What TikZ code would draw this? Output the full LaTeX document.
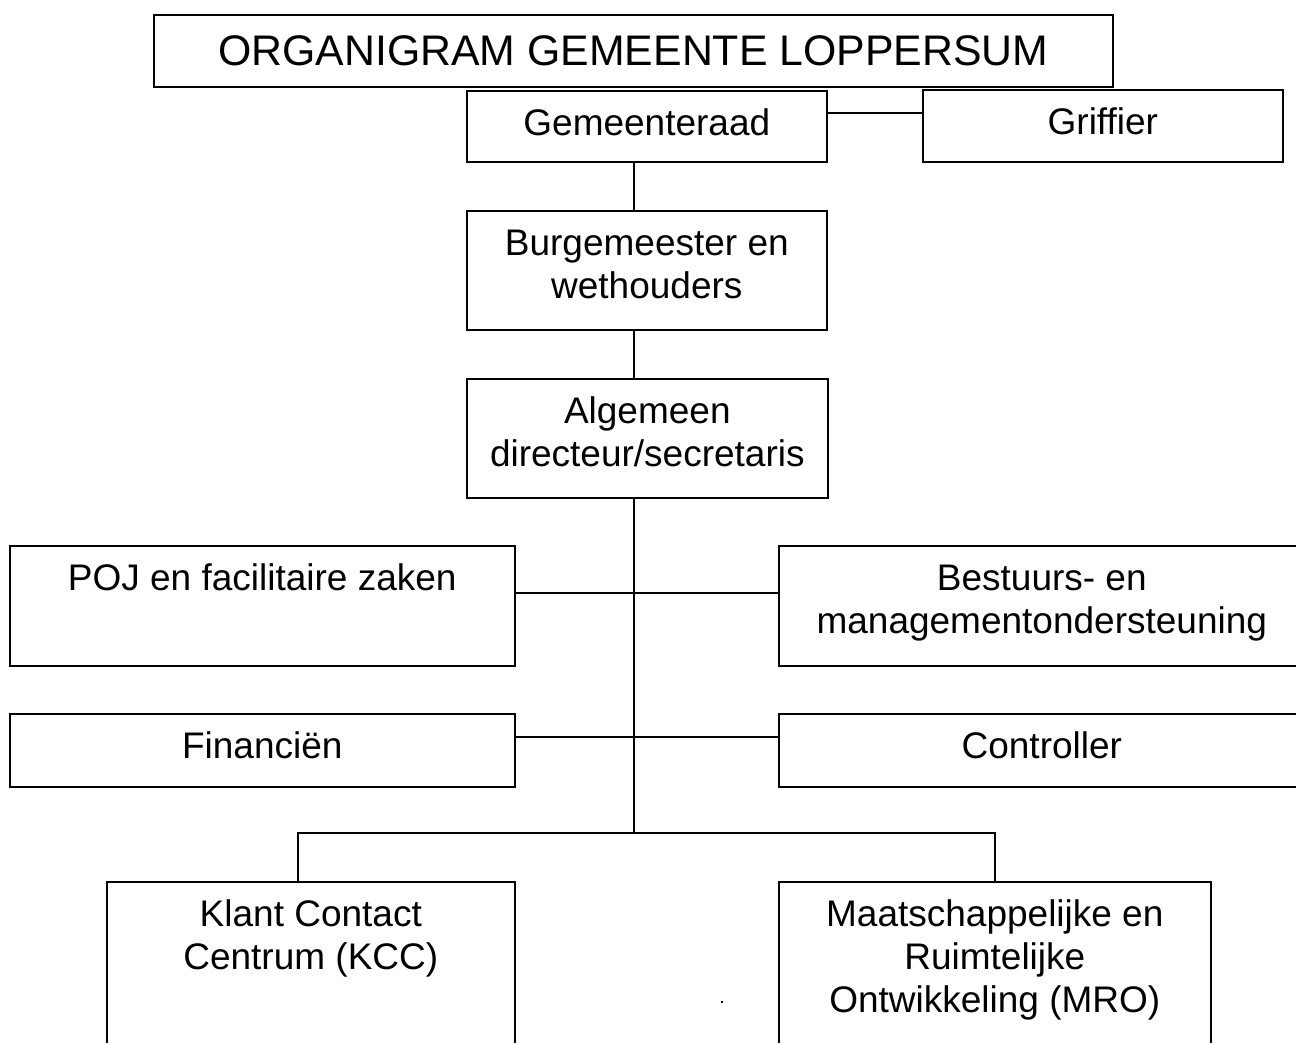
\documentclass[tikz,border=0pt]{standalone}
\usepackage{fontspec}
\setmainfont{Liberation Sans}
\usepackage{tikz}
\usetikzlibrary{positioning,calc}

% lines hang from the top of the box
\newcommand{\toplines}[1]{\begin{tabular}[t]{@{}c@{}}#1\end{tabular}}

\begin{document}
\begin{tikzpicture}[
    x=0.5pt, y=-0.5pt,
    line width=0.8pt,
    unit/.style 2 args={draw, anchor=north west, inner sep=0pt,
        font=\fontsize{18.5}{21.5}\selectfont,
        minimum width=#1, text height=22.5pt, text depth=#2},
    head/.style={draw, anchor=north west, inner sep=0pt,
        font=\fontsize{21.4}{25}\selectfont,
        minimum width=479.5pt, text height=25.5pt, text depth=10.5pt},
]
\useasboundingbox (0,0) rectangle (1296,1043);

% Title
\node[head] (title) at (153,14) {ORGANIGRAM GEMEENTE LOPPERSUM};

% Bestuur
\node[unit={180pt}{13pt}] (raad) at (466,90) {Gemeenteraad};
\node[unit={180pt}{13.5pt}] (griffier) at (922,89) {Griffier};
\node[unit={180pt}{37pt}] (burg) at (466,210) {\toplines{Burgemeester en\\wethouders}};
\node[unit={180.5pt}{37pt}] (alg) at (466,378) {\toplines{Algemeen\\directeur/secretaris}};

% Staf
\node[unit={252.5pt}{37.5pt}] (poj) at (9,545) {POJ en facilitaire zaken};
\node[unit={263pt}{37.5pt}] (bmo) at (778,545) {\toplines{Bestuurs- en\\managementondersteuning}};
\node[unit={252.5pt}{14pt}] (fin) at (9,713) {Financi\"en};
\node[unit={263pt}{14pt}] (contr) at (778,713) {Controller};

% Afdelingen
\node[unit={204pt}{62pt}] (kcc) at (106,881) {\toplines{Klant Contact\\Centrum (KCC)}};
\node[unit={216pt}{62pt}] (mro) at (778,881) {\toplines{Maatschappelijke en\\Ruimtelijke\\Ontwikkeling (MRO)}};

% Lijnen
\coordinate (spine) at (634,0);
\coordinate (raadlink) at (870,113);
\coordinate (pojlink) at (634,593);
\coordinate (finlink) at (634,737);
\coordinate (split) at (634,833);
\coordinate (kcclink) at (298,833);

\draw (raad.east |- raadlink) -- (griffier.west |- raadlink);
\draw (raad.south -| spine) -- (burg.north -| spine);
\draw (burg.south -| spine) -- (alg.north -| spine);
\draw (alg.south -| spine) -- (split);
\draw (poj.east |- pojlink) -- (bmo.west |- pojlink);
\draw (fin.east |- finlink) -- (contr.west |- finlink);
\draw (kcc.north -| kcclink) -- (kcclink) -- (mro.north |- kcclink) -- (mro.north);

% stipje
\fill (721,1001) rectangle (723,1003);
\end{tikzpicture}
\end{document}
